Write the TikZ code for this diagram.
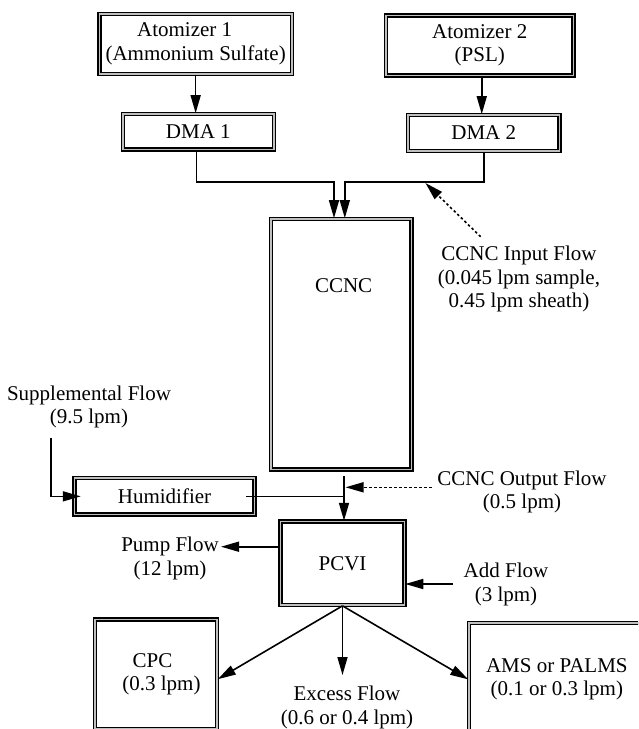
\documentclass[tikz,border=0pt]{standalone}
\usepackage{fontspec}
\setmainfont{Liberation Serif}
\usetikzlibrary{arrows.meta}
\newcommand\figfont{\fontsize{21}{23.5}\selectfont}
\begin{document}
\begin{tikzpicture}[x=1pt,y=-1pt,
  box/.style={draw=black, line width=1.5pt, double=gray!50, double distance=1.5pt, inner sep=0pt, align=center, font=\figfont},
  lbl/.style={inner sep=0pt, align=center, font=\figfont},
  arr/.style={line width=1.6pt, -{Triangle[length=18pt,width=10pt]}},
  flow/.style={line width=1.6pt},
  dotarr/.style={line width=1.6pt, dash pattern=on 2.5pt off 2.5pt, -{Triangle[length=18pt,width=10pt]}},
]
\useasboundingbox (0,0) rectangle (638,729);
\clip (0,0) rectangle (638,729);

% boxes
\node[box, minimum width=192.3pt, minimum height=59.9pt] (atom1) at (195.65,43.85) {Atomizer 1\hspace*{22pt}\\(Ammonium Sulfate)};
\node[box, minimum width=187.9pt, minimum height=60pt] (atom2) at (479.75,45.5) {Atomizer 2\\(PSL)};
\node[box, minimum width=150.9pt, minimum height=35.6pt] (dma1) at (198.35,131.7) {DMA 1};
\node[box, minimum width=151.1pt, minimum height=36.2pt] (dma2) at (483.75,133) {DMA 2};
\node[box, minimum width=140.8pt, minimum height=250.6pt] (ccnc) at (341.3,344.2) {};
\node[lbl] (ccnctxt) at (343.6,286) {CCNC};
\node[box, minimum width=180pt, minimum height=36.3pt] (humid) at (164.5,496.35) {Humidifier};
\node[box, minimum width=124pt, minimum height=83.6pt] (pcvi) at (342.5,563.3) {PCVI};
\node[box, minimum width=122.2pt, minimum height=109.3pt] (cpc) at (156,674.15) {CPC\hspace*{7pt}\\\hspace*{11pt}(0.3 lpm)};
\node[box, minimum width=175.9pt, minimum height=112.9pt] (ams) at (556.85,679.35) {AMS or PALMS\\(0.1 or 0.3 lpm)};

% labels
\node[lbl] (inlbl) at (519,279) {CCNC Input Flow\\(0.045 lpm sample,\\0.45 lpm sheath)};
\node[lbl] (suplbl) at (89,407) {Supplemental Flow\\(9.5 lpm)};
\node[lbl] (outlbl) at (522,492) {CCNC Output Flow\\(0.5 lpm)};
\node[lbl] (pumplbl) at (170,558.3) {Pump Flow\\(12 lpm)};
\node[lbl] (addlbl) at (506,584.6) {Add Flow\\(3 lpm)};
\node[lbl] (exclbl) at (347,707.5) {Excess Flow\\(0.6 or 0.4 lpm)};

% coordinates
\coordinate (j1) at (334,181.7);
\coordinate (j2) at (344.8,181.7);
\coordinate (inend) at (425.4,183);
\coordinate (instart) at (480.6,236.7);
\coordinate (supstart) at (51,438);
\coordinate (cout) at (344,476);
\coordinate (outend) at (345.5,487.3);
\coordinate (outstart) at (431.5,487.3);
\coordinate (pumpend) at (221,546.7);
\coordinate (addstart) at (453,584);
\coordinate (excend) at (344,675);

% connectors
\draw[arr] (atom1.south) -- (atom1.south |- dma1.north);
\draw[arr] ([xshift=2pt]atom2.south) -- ([xshift=2pt]atom2.south |- dma2.north);
\draw[arr] ([xshift=-2pt]dma1.south) |- (j1) -- (j1 |- ccnc.north);
\draw[arr] (dma2.south) |- (j2) -- (j2 |- ccnc.north);
\draw[dotarr] (instart) -- (inend);
\draw[arr] (supstart) |- ([xshift=7pt]humid.west);
\draw[flow] ([xshift=-9pt]humid.east) -- (humid.east -| cout);
\draw[arr] (cout) -- (cout |- pcvi.north);
\draw[dotarr] (outstart) -- (outend);
\draw[arr] ([yshift=16.6pt]pcvi.west) -- (pumpend);
\draw[arr] (addstart) -- (addstart -| pcvi.east);
\draw[arr] (pcvi.south) -- ([yshift=-5pt]cpc.east);
\draw[arr] (pcvi.south) -- (pcvi.south |- excend);
\draw[arr] (pcvi.south) -- (ams.west);
\end{tikzpicture}
\end{document}
